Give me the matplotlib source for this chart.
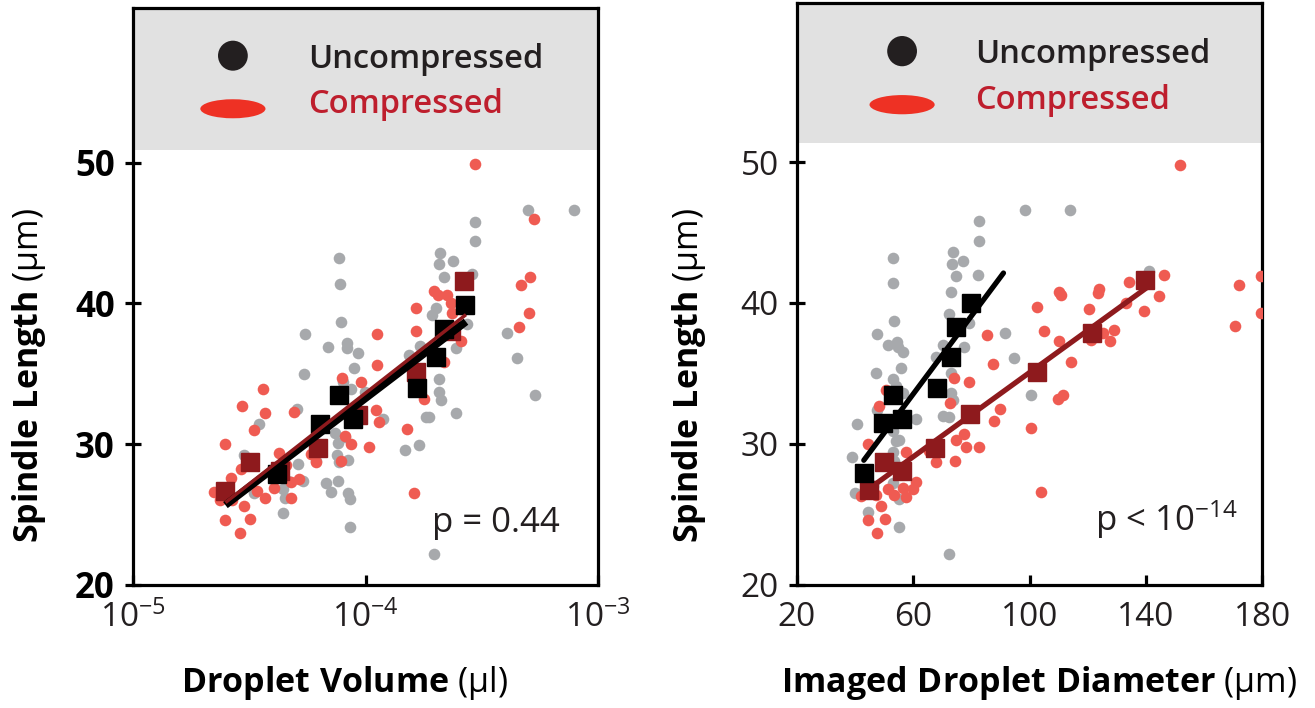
import numpy as np
import matplotlib
matplotlib.use('Agg')
import matplotlib.pyplot as plt
from matplotlib.patches import Ellipse
from matplotlib.ticker import FixedLocator, NullLocator, LogFormatterSciNotation

plt.rcParams['font.family'] = ['Open Sans', 'DejaVu Sans']
plt.rcParams['mathtext.fontset'] = 'custom'
plt.rcParams['mathtext.rm'] = 'Open Sans'
plt.rcParams['mathtext.bf'] = 'Open Sans:bold'
plt.rcParams['mathtext.it'] = 'Open Sans:italic'

# ---------------- raw droplets, volume panel ----------------
vol_unc = [5.0e-4, 7.85e-4, 2.94e-4, 2.94e-4, 7.67e-5, 2.08e-4, 2.07e-4, 2.37e-4, 2.17e-4, 2.88e-4,
           7.74e-5, 7.87e-5, 5.5e-5, 6.89e-5, 8.33e-5, 8.3e-5, 9.3e-5, 8.93e-5, 5.42e-5, 4.05e-4,
           4.48e-4, 5.35e-4, 2.0e-4, 1.93e-4, 2.74e-4, 2.44e-4, 1.72e-4, 1.53e-4, 2.06e-4, 2.06e-4,
           2.10e-4, 2.44e-4, 1.81e-4, 1.87e-4, 1.69e-4, 1.47e-4, 1.19e-4, 9.93e-5, 8.0e-5, 8.69e-5,
           3.49e-5, 5.08e-5, 7.36e-5, 7.62e-5, 8.14e-5, 7.57e-5, 7.67e-5, 5.14e-5, 7.62e-5, 6.78e-5,
           7.13e-5, 8.41e-5, 8.55e-5, 4.43e-5, 4.5e-5, 4.43e-5, 3.32e-5, 8.55e-5, 1.96e-4, 3.0e-5,
           4.62e-5, 5.37e-5, 6.14e-5, 8.41e-5]
len_unc = [46.6, 46.6, 45.8, 44.4, 43.2, 43.6, 42.8, 43.0, 41.9, 42.1,
           41.4, 38.7, 37.8, 36.9, 37.2, 36.8, 36.5, 35.4, 35.0, 37.9,
           36.1, 33.5, 39.7, 39.2, 38.5, 36.8, 37.0, 36.3, 34.6, 33.7,
           33.1, 32.2, 31.9, 31.9, 29.9, 29.6, 31.8, 33.7, 34.4, 33.9,
           31.4, 32.5, 30.8, 30.1, 30.5, 29.2, 28.7, 28.6, 27.4, 27.2,
           26.6, 26.5, 26.1, 26.8, 26.2, 25.1, 26.5, 24.1, 22.2, 29.2,
           27.4, 27.4, 28.8, 28.9]

vol_comp = [2.94e-4, 5.28e-4, 5.09e-4, 4.66e-4, 5.02e-4, 4.58e-4, 1.96e-4, 2.05e-4, 2.24e-4, 2.32e-4,
            2.35e-4, 2.56e-4, 1.64e-4, 1.65e-4, 2.35e-4, 2.56e-4, 2.17e-4, 1.12e-4, 1.12e-4, 7.92e-5,
            9.55e-5, 1.11e-4, 1.14e-4, 1.03e-4, 1.5e-4, 1.79e-4, 1.61e-4, 8.69e-5, 8.14e-5, 7.87e-5,
            6.14e-5, 5.84e-5, 4.91e-5, 3.7e-5, 3.63e-5, 2.94e-5, 3.32e-5, 2.48e-5, 4.26e-5, 4.55e-5,
            4.79e-5, 5.2e-5, 4.79e-5, 4.05e-5, 3.7e-5, 3.41e-5, 2.92e-5, 2.63e-5, 2.23e-5, 2.38e-5,
            2.67e-5, 3.0e-5, 2.5e-5, 3.19e-5, 2.88e-5]
len_comp = [49.9, 46.0, 41.9, 41.3, 39.3, 38.3, 40.9, 40.6, 40.6, 40.0,
            39.3, 39.6, 39.7, 38.0, 37.8, 37.3, 35.8, 37.8, 35.6, 34.7,
            34.4, 32.4, 31.6, 29.8, 31.1, 33.2, 26.5, 30.0, 30.6, 28.8,
            28.7, 29.3, 32.3, 32.2, 33.9, 32.7, 31.0, 30.0, 29.4, 28.5,
            27.3, 27.5, 26.2, 26.9, 26.2, 26.7, 28.2, 27.6, 26.6, 26.0,
            26.0, 25.6, 24.6, 24.7, 23.7]

# binned means, volume panel
bin_vol_unc = [4.15e-5, 6.4e-5, 7.67e-5, 8.85e-5, 1.66e-4, 2.01e-4, 2.17e-4, 2.67e-4]
bin_len_unc = [27.9, 31.4, 33.5, 31.8, 34.0, 36.2, 38.2, 39.9]
bin_vol_comp = [2.5e-5, 3.2e-5, 4.3e-5, 6.24e-5, 9.3e-5, 1.64e-4, 2.32e-4, 2.65e-4]
bin_len_comp = [26.7, 28.7, 28.1, 29.7, 32.1, 35.1, 38.0, 41.6]

# ---------------- raw droplets, diameter panel ----------------
diam_unc = [98.5, 114.0, 82.5, 82.5, 52.9, 73.5, 73.3, 77.0, 74.7, 82.1,
            53.1, 53.5, 47.5, 51.2, 54.3, 54.6, 56.3, 55.8, 47.2, 94.7,
            91.6, 100.5, 73.0, 72.4, 79.3, 77.5, 70.1, 67.8, 73.0, 73.0,
            73.5, 70.1, 72.4, 61.1, 53.2, 54.0, 56.3, 40.6, 47.7, 52.9,
            54.0, 55.2, 52.9, 53.5, 38.9, 52.9, 55.2, 40.1, 44.3, 55.0,
            72.4, 141.1, 46.0]
dlen_unc = [46.6, 46.6, 45.8, 44.4, 43.2, 43.6, 42.8, 43.0, 41.9, 42.0,
            41.4, 38.7, 37.8, 37.0, 37.2, 36.9, 36.5, 35.4, 35.0, 36.1,
            37.9, 33.5, 40.8, 39.2, 38.6, 36.9, 37.0, 36.2, 35.0, 33.6,
            33.1, 32.0, 31.9, 31.8, 34.6, 34.1, 33.6, 31.4, 32.4, 30.9,
            30.2, 30.3, 29.4, 28.8, 29.1, 27.2, 26.1, 26.5, 25.2, 24.1,
            22.2, 42.3, 27.0]

diam_comp = [151.8, 179.5, 171.9, 179.5, 170.7, 146.3, 134.3, 133.1, 144.6, 139.2,
             123.4, 124.0, 110.0, 110.8, 102.4, 120.5, 129.1, 127.7, 125.1, 121.1,
             110.2, 105.0, 114.2, 85.2, 87.3, 79.3, 74.1, 109.6, 111.3, 89.8,
             87.9, 100.5, 103.9, 82.5, 78.1, 77.5, 74.7, 72.7, 74.4, 67.8,
             65.5, 57.5, 57.0, 60.9, 59.8, 57.5, 56.3, 53.5, 51.2, 47.2,
             44.3, 48.1, 50.6, 48.9, 50.3, 44.6, 47.7, 42.0]
dlen_comp = [49.8, 41.9, 41.3, 39.3, 38.4, 42.0, 41.5, 40.0, 40.5, 39.4,
             40.7, 41.0, 40.8, 40.6, 39.7, 39.6, 38.1, 37.3, 37.9, 37.4,
             37.3, 38.0, 35.8, 37.7, 35.7, 34.4, 34.7, 33.2, 33.5, 32.5,
             31.6, 31.1, 26.6, 29.8, 29.8, 30.7, 30.3, 32.9, 28.8, 28.7,
             29.5, 29.4, 28.0, 27.3, 26.8, 26.2, 26.9, 26.4, 26.8, 26.4,
             30.0, 32.7, 33.8, 25.6, 24.7, 24.6, 23.7, 26.3]

# binned means, diameter panel
bin_diam_unc = [43.2, 49.7, 52.9, 56.1, 68.1, 73.0, 74.7, 79.8]
bin_dlen_unc = [27.9, 31.5, 33.5, 31.8, 34.0, 36.2, 38.3, 40.0]
bin_diam_comp = [44.9, 50.0, 56.1, 67.6, 79.6, 102.4, 121.4, 139.8]
bin_dlen_comp = [26.7, 28.7, 28.1, 29.7, 32.1, 35.1, 37.9, 41.6]

# extent of fitted lines
span_vol = [2.5e-5, 2.7e-4]
span_diam_unc = [43.0, 91.0]
span_diam_comp = [44.6, 141.0]

GRAY = '#a7a9ac'
SALMON = '#ef5b52'
DARKRED = '#8e1a1d'
INK = '#231f20'
DOT = 70
SQ = 13.5

fig = plt.figure(figsize=(13.15, 7.08), dpi=100)
ax1 = fig.add_axes([0.101, 0.174, 0.354, 0.815])
ax2 = fig.add_axes([0.606, 0.174, 0.354, 0.822])


def draw_header(ax, band_bottom, top, xm, xt):
    ax.axhspan(band_bottom, top, color='#e1e1e1', lw=0, zorder=0)
    ax.add_patch(Ellipse((xm, 0.917), 0.064, 0.052, transform=ax.transAxes,
                         color=INK, lw=0, zorder=5))
    ax.add_patch(Ellipse((xm, 0.825), 0.14, 0.033, transform=ax.transAxes,
                         color='#ee3124', lw=0, zorder=5))
    ax.text(xt, 0.896, 'Uncompressed', transform=ax.transAxes, fontsize=23.5,
            fontweight='semibold', color=INK, va='baseline')
    ax.text(xt, 0.818, 'Compressed', transform=ax.transAxes, fontsize=23.5,
            fontweight='semibold', color='#be1e2d', va='baseline')


def style_axes(ax, bold_y):
    for sp in ax.spines.values():
        sp.set_linewidth(2.3)
        sp.set_color('black')
    ax.tick_params(axis='x', direction='in', length=7, width=2.3, pad=12,
                   labelsize=24, labelcolor=INK)
    ax.tick_params(axis='y', direction='inout', length=12, width=2.3, pad=7,
                   labelsize=25 if bold_y else 24, labelcolor=INK)
    ax.set_yticks([20, 30, 40, 50])
    if bold_y:
        for t in ax.get_yticklabels():
            t.set_fontweight('bold')
            t.set_color('black')


# ---------------- left: droplet volume ----------------
ax1.set_xscale('log')
ax1.scatter(vol_unc, len_unc, s=DOT, color=GRAY, lw=0, zorder=2)
ax1.scatter(vol_comp, len_comp, s=DOT, color=SALMON, lw=0, zorder=3)
ax1.plot(bin_vol_comp, bin_len_comp, 's', color=DARKRED, ms=SQ, zorder=4)
ax1.plot(bin_vol_unc, bin_len_unc, 's', color='black', ms=SQ, zorder=5)
xs = np.log10(span_vol)
k_u = np.polyfit(np.log10(bin_vol_unc), bin_len_unc, 1)
k_c = np.polyfit(np.log10(bin_vol_comp), bin_len_comp, 1)
ax1.plot(span_vol, np.polyval(k_u, xs), color='black', lw=5.5, solid_capstyle='butt', zorder=6)
ax1.plot(span_vol, np.polyval(k_c, xs), color=DARKRED, lw=2.5, solid_capstyle='butt', zorder=7)
ax1.set_xlim(1e-5, 1e-3)
ax1.set_ylim(20, 61)
ax1.xaxis.set_major_locator(FixedLocator([1e-5, 1e-4, 1e-3]))
ax1.xaxis.set_minor_locator(NullLocator())
ax1.xaxis.set_major_formatter(LogFormatterSciNotation())
style_axes(ax1, True)
draw_header(ax1, 50.9, 61, 0.215, 0.376)
ax1.text(0.918, 0.092, 'p = 0.44', transform=ax1.transAxes, fontsize=25,
         color=INK, ha='right', va='baseline')

# ---------------- right: imaged diameter ----------------
ax2.scatter(diam_unc, dlen_unc, s=DOT, color=GRAY, lw=0, zorder=2)
ax2.scatter(diam_comp, dlen_comp, s=DOT, color=SALMON, lw=0, zorder=3)
k2_c = np.polyfit(bin_diam_comp, bin_dlen_comp, 1)
k2_u = np.polyfit(bin_diam_unc, bin_dlen_unc, 1)
ax2.plot(span_diam_comp, np.polyval(k2_c, span_diam_comp), color=DARKRED, lw=3.8,
         solid_capstyle='round', zorder=4)
ax2.plot(bin_diam_comp, bin_dlen_comp, 's', color=DARKRED, ms=SQ, zorder=5)
ax2.plot(bin_diam_unc, bin_dlen_unc, 's', color='black', ms=SQ, zorder=6)
ax2.plot(span_diam_unc, np.polyval(k2_u, span_diam_unc), color='black', lw=3.8,
         solid_capstyle='round', zorder=7)
ax2.set_xlim(20, 180)
ax2.set_ylim(20, 61.3)
ax2.set_xticks([20, 60, 100, 140, 180])
style_axes(ax2, False)
draw_header(ax2, 51.35, 61.3, 0.226, 0.383)
ax2.text(0.946, 0.092, r'p < 10$^{-14}$', transform=ax2.transAxes, fontsize=25,
         color=INK, ha='right', va='baseline')

# axis titles: bold words, plain units
fig.text(0.022, 0.469, r'$\mathbf{Spindle\ Length}$ (µm)', rotation=90, fontsize=24.5,
         ha='center', va='center', color='black')
fig.text(0.524, 0.469, r'$\mathbf{Spindle\ Length}$ (µm)', rotation=90, fontsize=24.5,
         ha='center', va='center', color='black')
fig.text(0.262, 0.035, r'$\mathbf{Droplet\ Volume}$ (µl)', fontsize=24.5,
         ha='center', va='center', color='black')
fig.text(0.79, 0.035, r'$\mathbf{Imaged\ Droplet\ Diameter}$ (µm)', fontsize=24.5,
         ha='center', va='center', color='black')

fig.savefig('out.png', dpi=100)
